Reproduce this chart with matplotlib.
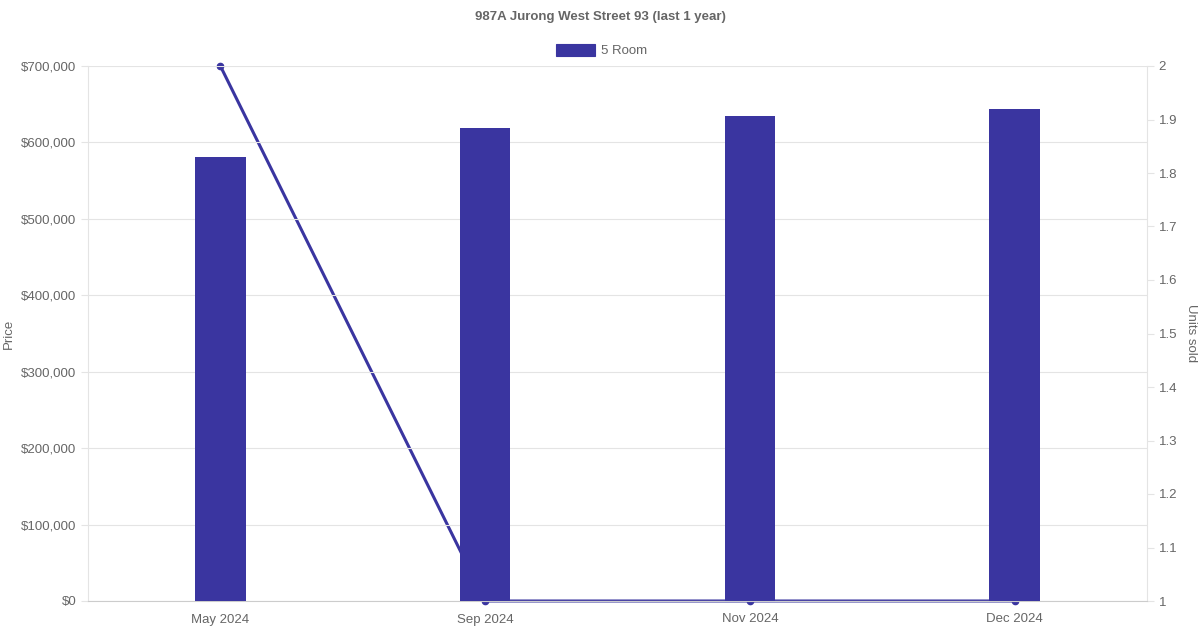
import matplotlib
matplotlib.use("Agg")
import matplotlib.pyplot as plt
from matplotlib.ticker import FuncFormatter, MultipleLocator
from matplotlib.patches import Rectangle

plt.rcParams['font.family'] = ['Liberation Sans', 'DejaVu Sans']

months = ['May 2024', 'Sep 2024', 'Nov 2024', 'Dec 2024']
prices = [581000, 619000, 635000, 644000]
units = [2, 1, 1, 1]

color = '#3a35a0'
grey = '#666666'
grid = '#e4e4e4'

fig = plt.figure(figsize=(12, 6.3), dpi=100)
ax = fig.add_axes([88 / 1200, 29 / 630, 1059 / 1200, 535 / 630])
ax2 = ax.twinx()

x = list(range(len(months)))
ax.bar(x, prices, width=0.19, color=color, zorder=3)
ax.set_xlim(-0.5, len(months) - 0.5)
ax.set_ylim(0, 700000)
ax.yaxis.set_major_locator(MultipleLocator(100000))
ax.yaxis.set_major_formatter(FuncFormatter(lambda v, p: '${:,.0f}'.format(v)))
ax.set_xticks(x)
ax.set_xticklabels(months)
ax.grid(axis='y', color=grid, lw=0.8, zorder=0)
ax.set_ylabel('Price', color=grey, fontsize=9.5)

ax2.plot(x, units, color=color, lw=2.2, marker='o', ms=4.5, zorder=2, clip_on=False)
ax2.set_ylim(1, 2)
ax2.yaxis.set_major_locator(MultipleLocator(0.1))
ax2.yaxis.set_major_formatter(FuncFormatter(lambda v, p: '{:g}'.format(round(v, 1))))
ax2.set_ylabel('Units sold', color=grey, fontsize=9.5, rotation=270, labelpad=14)

# bars drawn above the line, as in the reference
ax2.set_zorder(0)
ax.set_zorder(1)
ax.patch.set_visible(False)
ax2.patch.set_facecolor('white')

for a in (ax, ax2):
    for s in a.spines.values():
        s.set_visible(False)
    a.tick_params(colors=grey, labelsize=9.5, length=5, width=0.8, color=grid)
ax.spines['bottom'].set_visible(True)
ax.spines['bottom'].set_color('#cccccc')
ax.spines['left'].set_visible(True)
ax.spines['left'].set_color(grid)
ax2.spines['right'].set_visible(True)
ax2.spines['right'].set_color(grid)
ax.tick_params(axis='x', length=0, pad=9)

fig.text(0.5, 1 - 17 / 630, '987A Jurong West Street 93 (last 1 year)', ha='center', va='center',
         color=grey, fontsize=9.5, fontweight='bold')
fig.patches.append(Rectangle((556 / 1200, 1 - 56 / 630), 39 / 1200, 12 / 630, transform=fig.transFigure,
                             facecolor=color, edgecolor=color, lw=0.8))
fig.text(601 / 1200, 1 - 51 / 630, '5 Room', ha='left', va='center', color=grey, fontsize=9.5)

fig.savefig('out.png', dpi=100)
